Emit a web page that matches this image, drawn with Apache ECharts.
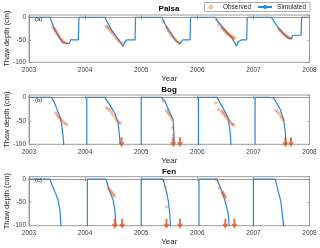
<!DOCTYPE html>
<html>
<head>
<meta charset="utf-8">
<script src="https://cdn.jsdelivr.net/npm/echarts@6/dist/echarts.min.js"></script>
<style>html,body{margin:0;padding:0;background:#fff}#c{width:320px;height:248px}</style>
</head>
<body>
<div id="c"></div>
<script>
// ---------- data ----------
const panelTitles = ['Palsa', 'Bog', 'Fen'];
const panelLabels = ['(a)', '(b)', '(c)'];
const yearTicks = [2003, 2004, 2005, 2006, 2007, 2008];
const depthTicks = [-100, -50, 0];

// Palsa simulated thaw depth
const palsaSimYear = [2003.00,2003.37,2003.42,2003.46,2003.51,2003.55,2003.61,2003.72,2003.74,2003.88,2003.89,
  2004.35,2004.40,2004.47,2004.55,2004.62,2004.68,2004.70,2004.75,2004.89,2004.90,
  2005.37,2005.42,2005.48,2005.55,2005.62,2005.69,2005.72,2005.74,2005.87,2005.88,
  2006.32,2006.37,2006.44,2006.52,2006.61,2006.70,2006.73,2006.79,2006.88,2006.89,
  2007.32,2007.38,2007.45,2007.54,2007.62,2007.68,2007.70,2007.85,2007.86,2008.00];
const palsaSimDepth = [0,0,-15,-28,-38,-47,-57,-58,-50,-50,0,
  0,-12,-28,-42,-54,-65,-56,-50,-50,0,
  0,-14,-27,-40,-52,-59,-55,-50,-50,0,
  0,-10,-20,-33,-45,-64,-55,-50,-50,0,
  0,-12,-24,-37,-47,-47,-40,-40,0,0];
// Palsa observations
const palsaObsYear = [2003.43,2003.45,2003.46,2003.47,2003.49,2003.50,2003.52,2003.54,2003.56,2003.58,2003.60,2003.62,2003.65,
  2004.38,2004.40,2004.42,2004.44,2004.46,2004.48,2004.50,2004.53,2004.56,2004.59,2004.62,2004.65,
  2005.39,2005.45,2005.47,2005.49,2005.51,2005.53,2005.55,2005.58,2005.61,2005.64,2005.68,
  2006.35,2006.38,2006.43,2006.45,2006.46,2006.48,2006.49,2006.51,2006.52,2006.54,2006.55,2006.57,2006.58,2006.60,2006.61,2006.63,2006.64,2006.66,
  2007.45,2007.46,2007.48,2007.50,2007.52,2007.54,2007.56,2007.58,2007.60,2007.62,2007.64,2007.67];
const palsaObsDepth = [-22,-27,-25,-30,-33,-36,-40,-43,-47,-50,-53,-55,-57,
  -20,-22,-25,-28,-31,-34,-38,-42,-47,-51,-55,-57,
  -10,-22,-26,-30,-34,-38,-42,-46,-50,-54,-57,
  -7,-17,-22,-25,-26,-28,-30,-32,-34,-36,-37,-39,-40,-42,-43,-45,-46,-47,
  -25,-28,-30,-32,-35,-37,-39,-41,-43,-44,-46,-47];
const palsaDeepYear = [];

// Bog simulated thaw depth (values below -100 are outside the axis)
const bogSimYear = [2003.00,2003.40,2003.45,2003.49,2003.55,2003.58,2003.60,2003.62,2003.63,2004.03,
  2004.03,2004.35,2004.44,2004.53,2004.59,2004.62,2004.63,2004.64,2005.00,
  2005.00,2005.36,2005.42,2005.50,2005.57,2005.59,2005.60,2006.02,
  2006.02,2006.28,2006.31,2006.35,2006.46,2006.55,2006.58,2006.60,2006.61,2007.03,
  2007.03,2007.28,2007.31,2007.36,2007.48,2007.54,2007.57,2007.58,2007.59,2008.00];
const bogSimDepth = [0,0,-10,-23,-41,-55,-75,-100,-150,-150,
  0,0,-16,-34,-55,-91,-100,-150,-150,
  0,0,-8,-30,-48,-100,-150,-150,
  0,0,-2,0,-23,-44,-69,-100,-150,-150,
  0,0,-2,-1,-26,-48,-76,-100,-150,-150];
const bogObsYear = [2003.48,2003.50,2003.52,2003.54,2003.56,2003.58,2003.61,2003.64,2003.67,
  2004.38,2004.41,2004.44,2004.47,2004.50,2004.54,2004.57,2004.60,2004.63,
  2005.39,2005.45,2005.47,2005.49,2005.51,2005.53,2005.55,2005.56,2005.57,
  2006.33,2006.38,2006.43,2006.45,2006.47,2006.49,2006.51,2006.53,2006.55,2006.57,2006.59,2006.61,2006.63,2006.65,
  2007.40,2007.43,2007.46,2007.49,2007.51,2007.53];
const bogObsDepth = [-33,-37,-40,-43,-46,-48,-52,-55,-58,
  -22,-25,-28,-33,-38,-44,-49,-53,-55,
  -8,-28,-31,-35,-38,-42,-47,-64,-80,
  -12,-26,-29,-32,-35,-38,-41,-44,-47,-50,-53,-56,-58,-59,
  -28,-31,-35,-40,-44,-48];
const bogDeepYear = [2004.65,2005.57,2005.69,2007.57,2007.67];

// Fen simulated thaw depth
const fenSimYear = [2003.00,2003.37,2003.46,2003.52,2003.55,2003.57,2003.58,2004.04,
  2004.04,2004.37,2004.44,2004.50,2004.53,2004.55,2004.56,2005.00,
  2005.00,2005.39,2005.45,2005.48,2005.51,2005.52,2005.53,2006.03,
  2006.03,2006.35,2006.44,2006.49,2006.55,2006.57,2006.58,2007.00,
  2007.00,2007.39,2007.45,2007.49,2007.52,2007.54,2007.55,2008.00];
const fenSimDepth = [0,0,-27,-45,-66,-100,-150,-150,
  0,0,-27,-45,-66,-100,-150,-150,
  0,0,-27,-45,-75,-100,-150,-150,
  0,0,-27,-45,-73,-100,-150,-150,
  0,0,-30,-48,-81,-100,-150,-150];
const fenObsYear = [2004.41,2004.43,2004.45,2004.47,2004.49,2004.51,2004.52,
  2005.40,2005.43,2005.45,
  2006.35,2006.39,2006.44,2006.45,2006.46,2006.47,2006.48,2006.49,2006.50];
const fenObsDepth = [-19,-22,-25,-28,-31,-34,-37,
  -2,-17,-60,
  -2,-19,-27,-29,-31,-33,-35,-37,-39];
const fenDeepYear = [2004.53,2004.66,2005.45,2005.69,2006.50,2006.66];

// ---------- chart ----------
const zip = (a, b) => a.map((v, i) => [v, b[i]]);
const sim = [zip(palsaSimYear, palsaSimDepth), zip(bogSimYear, bogSimDepth), zip(fenSimYear, fenSimDepth)];
const obs = [zip(palsaObsYear, palsaObsDepth), zip(bogObsYear, bogObsDepth), zip(fenObsYear, fenObsDepth)];
const deep = [palsaDeepYear, bogDeepYear, fenDeepYear].map(a => a.map(y => [y, depthTicks[0]]));

const FONT = 'Liberation Sans, Arial, Helvetica, sans-serif';
const AX = '#9a9a9a';
const grids = [
  {left: 29, right: 10.5, top: 15, height: 47.3},
  {left: 29, right: 10.5, top: 95, height: 49.3},
  {left: 29, right: 10.5, top: 176.7, height: 49}
];
const xAxis = [], yAxis = [], series = [], title = [];
grids.forEach((g, i) => {
  g.show = true; g.borderColor = AX; g.borderWidth = 1;
  g.containLabel = false; g.outerBoundsMode = 'none';
  xAxis.push({
    type: 'value', gridIndex: i, min: yearTicks[0], max: yearTicks[yearTicks.length - 1], interval: 1,
    position: 'bottom', splitLine: {show: false},
    axisLine: {show: true, lineStyle: {color: AX, width: 1}},
    axisTick: {show: true, inside: true, length: 2, lineStyle: {color: AX}},
    axisLabel: {fontSize: 6.5, color: '#404040', fontFamily: FONT, margin: 4, formatter: v => String(v)},
    name: 'Year', nameLocation: 'middle', nameGap: 12,
    nameTextStyle: {fontSize: 8, color: '#262626', fontFamily: FONT}
  });
  xAxis.push({
    type: 'value', gridIndex: i, min: yearTicks[0], max: yearTicks[yearTicks.length - 1], interval: 1,
    position: 'top', splitLine: {show: false},
    axisLine: {show: true, lineStyle: {color: AX, width: 1}},
    axisTick: {show: true, inside: true, length: 2, lineStyle: {color: AX}},
    axisLabel: {show: false}
  });
  yAxis.push({
    type: 'value', gridIndex: i, min: depthTicks[0], max: 5, interval: 50,
    position: 'left', splitLine: {show: false},
    axisLine: {show: true, lineStyle: {color: AX, width: 1}},
    axisTick: {show: true, inside: true, length: 2, lineStyle: {color: AX}},
    axisLabel: {fontSize: 6.5, color: '#404040', fontFamily: FONT, margin: 3, showMaxLabel: false,
      formatter: v => (depthTicks.indexOf(v) >= 0 ? String(v) : '')},
    name: 'Thaw depth (cm)', nameLocation: 'middle', nameGap: 18, nameMoveOverlap: false,
    nameTextStyle: {fontSize: 7.5, color: '#262626', fontFamily: FONT}
  });
  yAxis.push({
    type: 'value', gridIndex: i, min: depthTicks[0], max: 5, interval: 50,
    position: 'right', splitLine: {show: false},
    axisLine: {show: true, lineStyle: {color: AX, width: 1}},
    axisTick: {show: true, inside: true, length: 2, lineStyle: {color: AX}},
    axisLabel: {show: false}
  });
  series.push({
    name: 'Observed', type: 'scatter', xAxisIndex: 2 * i, yAxisIndex: 2 * i,
    data: obs[i], symbol: 'circle', symbolSize: 3.5,
    itemStyle: {color: '#D95319', opacity: 0.35}, z: 3
  });
  series.push({
    name: 'Simulated', type: 'line', xAxisIndex: 2 * i, yAxisIndex: 2 * i,
    data: sim[i], symbol: 'none', clip: true,
    lineStyle: {color: '#2b86cf', width: 1.2}, itemStyle: {color: '#2b86cf'}, z: 2
  });
  series.push({
    name: 'Deeper than 100 cm', type: 'scatter', xAxisIndex: 2 * i, yAxisIndex: 2 * i,
    data: deep[i], symbol: 'path://M2,0 L4,0 L4,5 L6,5 L3,10 L0,5 L2,5 Z',
    symbolSize: [6, 10], symbolOffset: [0, -2], clip: false,
    itemStyle: {color: '#E0501A'}, z: 4
  });
});
const titleTops = [5, 86, 167.5];
const labelTops = [16.5, 97, 177];
panelTitles.forEach((t, i) => {
  title.push({text: t, left: 169, top: titleTops[i], textAlign: 'center', padding: 0,
    textStyle: {fontSize: 8, fontWeight: 'bold', color: '#000', fontFamily: FONT}});
  title.push({text: panelLabels[i], left: 35, top: labelTops[i], padding: 0,
    textStyle: {fontSize: 6, fontWeight: 'normal', color: '#262626', fontFamily: FONT}});
});

const chart = echarts.init(document.getElementById('c'), null, {renderer: 'canvas'});
chart.setOption({
  animation: false,
  backgroundColor: '#fff',
  title: title,
  legend: {
    data: [{name: 'Observed', icon: 'circle'}, {name: 'Simulated'}],
    right: 10, top: 2.5, padding: [1, 4], itemGap: 6, itemWidth: 14, itemHeight: 5,
    borderColor: '#b0b0b0', borderWidth: 1, backgroundColor: '#fff',
    textStyle: {fontSize: 6.5, color: '#262626', fontFamily: FONT}, z: 10
  },
  grid: grids, xAxis: xAxis, yAxis: yAxis, series: series
});
</script>
</body>
</html>
